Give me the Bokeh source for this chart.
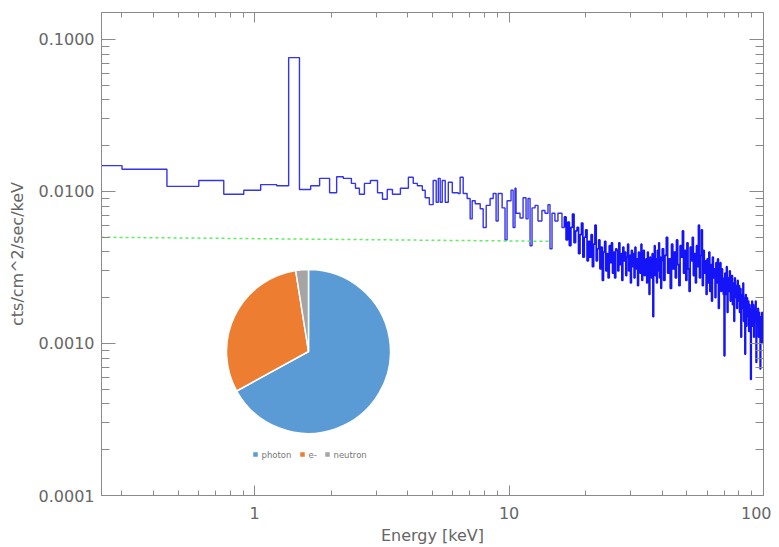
import math
from bokeh.plotting import figure
from bokeh.models import Range1d, LinearScale, LogAxis, FixedTicker, PrintfTickFormatter
from bokeh.embed import file_html
from bokeh.resources import INLINE
from bokeh.core.properties import value

# ---------------- data ----------------
# coarse low-energy bins: left edges [keV] and rates
low_edges = [0.25, 0.301, 0.452, 0.603, 0.756, 0.906, 1.056, 1.22, 1.36, 1.50,
             1.66, 1.80, 1.97, 2.10, 2.23, 2.40, 2.49, 2.58, 2.70, 2.85,
             3.04, 3.18, 3.32, 3.48, 3.74, 4.02, 4.20, 4.36, 4.56, 4.68,
             4.86, 5.03, 5.17, 5.27, 5.36, 5.46, 5.61, 5.77, 5.98, 6.31,
             6.42, 6.60, 6.84, 7.03, 7.16, 7.36, 7.70, 7.91, 8.13, 8.42,
             8.66, 8.89, 9.06, 9.39, 9.64, 9.82, 10.18, 10.37, 10.55, 10.65,
             11.04, 11.35, 11.66, 11.87, 12.09, 12.31, 12.65, 12.99, 13.46, 13.84,
             14.22, 14.48, 14.75, 15.14, 15.56, 16.14]
low_counts = [0.0148, 0.0140, 0.0108, 0.0118, 0.0096, 0.0102, 0.0111, 0.0109, 0.076, 0.0103,
              0.0109, 0.0122, 0.0098, 0.0125, 0.0122, 0.0113, 0.0105, 0.0096, 0.0113, 0.0118,
              0.0098, 0.0089, 0.0103, 0.0096, 0.0105, 0.0124, 0.0113, 0.0109, 0.0102, 0.0091,
              0.0082, 0.0118, 0.0085, 0.0122, 0.0085, 0.0118, 0.0085, 0.0115, 0.0098, 0.0097,
              0.0124, 0.0097, 0.0090, 0.0066, 0.0087, 0.0083, 0.0077, 0.0058, 0.0081, 0.0090,
              0.0097, 0.0064, 0.0097, 0.0078, 0.0048, 0.0087, 0.0102, 0.0058, 0.0105, 0.0072,
              0.0067, 0.0091, 0.0066, 0.0090, 0.0044, 0.0078, 0.0081, 0.0064, 0.0075, 0.0072,
              0.0082, 0.0042, 0.0072, 0.0064, 0.0072, 0.0058]
# fine high-energy bins: edges [keV] and rates
hi_edges = [16.5, 16.75, 17, 17.25, 17.5, 17.75, 18, 18.25,
            18.5, 18.75, 19, 19.25, 19.5, 19.75, 20, 20.25,
            20.5, 20.75, 21, 21.25, 21.5, 21.75, 22, 22.25,
            22.5, 22.75, 23, 23.25, 23.5, 23.75, 24, 24.25,
            24.5, 24.75, 25, 25.25, 25.5, 25.75, 26, 26.25,
            26.5, 26.75, 27, 27.25, 27.5, 27.75, 28, 28.25,
            28.5, 28.75, 29, 29.25, 29.5, 29.75, 30, 30.25,
            30.5, 30.75, 31, 31.25, 31.5, 31.75, 32, 32.25,
            32.5, 32.75, 33, 33.25, 33.5, 33.75, 34, 34.25,
            34.5, 34.75, 35, 35.25, 35.5, 35.75, 36, 36.25,
            36.5, 36.75, 37, 37.25, 37.5, 37.75, 38, 38.25,
            38.5, 38.75, 39, 39.25, 39.5, 39.75, 40,
            40.5, 41, 41.5, 42, 42.5, 43, 43.5, 44, 44.5, 45,
            45.5, 46, 46.5, 47, 47.5, 48, 48.5, 49, 49.5, 50,
            50.5, 51, 51.5, 52, 52.5, 53, 53.5, 54, 54.5, 55,
            55.5, 56, 56.5, 57, 57.5, 58, 58.5, 59, 59.5, 60,
            60.5, 61, 61.5, 62, 62.5, 63, 63.5, 64, 64.5, 65,
            65.5, 66, 66.5, 67, 67.5, 68, 68.5, 69, 69.5, 70,
            70.5, 71, 71.5, 72, 72.5, 73, 73.5, 74, 74.5, 75,
            75.5, 76, 76.5, 77, 77.5, 78, 78.5, 79, 79.5, 80,
            80.5, 81, 81.5, 82, 82.5, 83, 83.5, 84, 84.5, 85,
            85.5, 86, 86.5, 87, 87.5, 88, 88.5, 89, 89.5, 90,
            90.5, 91, 91.5, 92, 92.5, 93, 93.5, 94, 94.5, 95,
            95.5, 96, 96.5, 97, 97.5, 98, 98.5, 99, 99.5, 100]
hi_counts = [0.0068, 0.0048, 0.0063, 0.0044, 0.0058, 0.0071, 0.0046, 0.0055,
             0.0058, 0.0039, 0.0052, 0.0062, 0.0037, 0.0050, 0.0056, 0.0035,
             0.0047, 0.0037, 0.0052, 0.0032, 0.0045, 0.0060, 0.0035, 0.0042,
             0.0048, 0.0031, 0.0043, 0.0026, 0.0040, 0.0047, 0.0030, 0.0039,
             0.0027, 0.0044, 0.0034, 0.0046, 0.0029, 0.0040, 0.0027, 0.0042,
             0.0041, 0.0030, 0.0046, 0.0033, 0.0039, 0.0026, 0.0043, 0.0035,
             0.0040, 0.0028, 0.0037, 0.0045, 0.0030, 0.0038, 0.0025, 0.0041,
             0.0032, 0.0039, 0.0027, 0.0043, 0.0031, 0.0036, 0.0024, 0.0040,
             0.0038, 0.0029, 0.0045, 0.0026, 0.0035, 0.0041, 0.0028, 0.0034,
             0.0036, 0.0025, 0.0040, 0.0030, 0.0021, 0.0037, 0.0033, 0.0027,
             0.0039, 0.0015, 0.0034, 0.0044, 0.0028, 0.0036, 0.0025, 0.0041,
             0.0030, 0.0046, 0.0027, 0.0037, 0.0023, 0.0035,
             0.0042, 0.0026, 0.0038, 0.0050, 0.0029, 0.0036, 0.0023, 0.0045, 0.0031, 0.0040,
             0.0027, 0.0048, 0.0033, 0.0024, 0.0044, 0.0037, 0.0055, 0.0029, 0.0041, 0.0026,
             0.0046, 0.0031, 0.0022, 0.0043, 0.0035, 0.0050, 0.0028, 0.0039, 0.0025, 0.0044,
             0.0032, 0.0060, 0.0027, 0.0038, 0.0056, 0.0024, 0.0041, 0.0029, 0.0035, 0.0021,
             0.0036, 0.0025, 0.0040, 0.0022, 0.0033, 0.0019, 0.0037, 0.0027, 0.0031, 0.0020,
             0.0034, 0.0025, 0.0036, 0.0017, 0.0030, 0.0034, 0.0022, 0.0031, 0.0027, 0.0021,
             0.00083, 0.0029, 0.0021, 0.0032, 0.0016, 0.0027, 0.0022, 0.0030, 0.0019, 0.0026,
             0.0028, 0.0018, 0.0025, 0.0014, 0.0027, 0.0020, 0.0024, 0.0017, 0.0026, 0.0019,
             0.0024, 0.0016, 0.0023, 0.0011, 0.0021, 0.0017, 0.0025, 0.0014, 0.0020, 0.00085,
             0.0021, 0.0013, 0.0020, 0.0015, 0.0019, 0.0012, 0.0018, 0.0014, 0.00058, 0.0017,
             0.0019, 0.0013, 0.0018, 0.0011, 0.0017, 0.0014, 0.0019, 0.00075, 0.0016, 0.0013,
             0.0017, 0.0011, 0.0016, 0.0012, 0.00068, 0.0015, 0.0011, 0.0016, 0.0010, 0.0014]
# background model (green dashed)
bg_energy = [0.25, 14.7]
bg_counts = [0.0050, 0.0047]
# inset pie
pie_labels = ["photon", "e-", "neutron"]
pie_values = [67.0, 30.5, 2.5]
pie_colors = ["#5B9BD5", "#ED7D31", "#A5A5A5"]
# ticks
x_ticks = [1, 10, 100]
y_ticks = [0.0001, 0.001, 0.01, 0.1]
x_minor = [m * 10.0 ** k for k in (-1, 0, 1) for m in range(2, 10)]
y_minor = [m * 10.0 ** k for k in (-4, -3, -2, -1) for m in range(2, 10)]

FONT = "DejaVu Sans"
TXT = "#666666"
AX = "#8a8a8a"

FW, FH = 662, 483
p = figure(frame_width=FW, frame_height=FH, x_axis_type="log", y_axis_type="log",
           x_range=Range1d(0.25, 100), y_range=Range1d(0.0001, 0.1505),
           output_backend="svg", toolbar_location=None,
           min_border_left=101, min_border_right=8, min_border_top=12, min_border_bottom=46)
p.background_fill_color = "white"
p.border_fill_color = "white"
p.outline_line_color = AX
p.grid.visible = False

p.extra_x_ranges = {"px": Range1d(0, FW)}
p.extra_y_ranges = {"px": Range1d(0, FH)}
p.extra_x_scales = {"px": LinearScale()}
p.extra_y_scales = {"px": LinearScale()}

# spectrum (step histogram): coarse part, then the fine part
xs_low = low_edges + [hi_edges[0]]
ys_low = low_counts + [low_counts[-1]]
p.step(x=xs_low, y=ys_low, mode="after", line_color="#3434e8", line_width=1.4)
xs_hi = [hi_edges[0]] + hi_edges
ys_hi = [low_counts[-1]] + hi_counts + [hi_counts[-1]]
p.step(x=xs_hi, y=ys_hi, mode="after", line_color="#1414f6", line_width=1.7)

# background line
p.line(x=bg_energy, y=bg_counts, line_color="#5fef5f", line_width=1.5, line_dash="3 3")

# pie inset
total = sum(pie_values)
starts, ends = [], []
acc = 0.0
for v in pie_values:
    starts.append(math.pi / 2 - 2 * math.pi * acc / total)
    acc += v
    ends.append(math.pi / 2 - 2 * math.pi * acc / total)
p.wedge(x=207, y=144, radius=82, radius_units="screen", start_angle=starts, end_angle=ends,
        direction="clock", fill_color=pie_colors, line_color="white", line_width=1.5,
        x_range_name="px", y_range_name="px")

leg_mx = [154, 201, 226]
leg_tx = [160, 207, 232]
p.scatter(x=leg_mx, y=[41] * 3, marker="square", size=4.5, fill_color=pie_colors,
          line_color=None, x_range_name="px", y_range_name="px")
p.text(x=leg_tx, y=[41] * 3, text=pie_labels, text_font=value(FONT), text_font_size="8.5px",
       text_color="#777777", text_baseline="middle", text_align="left",
       x_range_name="px", y_range_name="px")

# axes
xt = FixedTicker(ticks=x_ticks, minor_ticks=x_minor)
yt = FixedTicker(ticks=y_ticks, minor_ticks=y_minor)

xa = p.xaxis[0]
ya = p.yaxis[0]
xa.ticker = xt
ya.ticker = yt
xa.formatter = PrintfTickFormatter(format="%d")
ya.formatter = PrintfTickFormatter(format="%.4f")
xa.axis_label = "Energy [keV]"
ya.axis_label = "cts/cm^2/sec/keV"

top = LogAxis(ticker=FixedTicker(ticks=x_ticks, minor_ticks=x_minor))
right = LogAxis(ticker=FixedTicker(ticks=y_ticks, minor_ticks=y_minor))
p.add_layout(top, "above")
p.add_layout(right, "right")

for ax in (xa, ya, top, right):
    ax.axis_line_color = AX
    ax.major_tick_line_color = AX
    ax.minor_tick_line_color = AX
    ax.major_tick_out = 0
    ax.minor_tick_out = 0
    ax.major_label_text_font = FONT
    ax.major_label_text_font_size = "16px"
    ax.major_label_text_color = TXT
    ax.axis_label_text_font = FONT
    ax.axis_label_text_font_size = "16px"
    ax.axis_label_text_color = TXT
    ax.axis_label_text_font_style = "normal"

for ax in (xa, top):
    ax.major_tick_in = 10
    ax.minor_tick_in = 5
for ax in (ya, right):
    ax.major_tick_in = 14
    ax.minor_tick_in = 8

for ax in (top, right):
    ax.major_label_text_font_size = "1px"
    ax.major_label_text_alpha = 0
    ax.major_label_standoff = 0

xa.major_label_standoff = 11
xa.axis_label_standoff = 4
ya.major_label_standoff = 7
ya.axis_label_standoff = 9

open("out.html", "w").write(file_html(p, INLINE))
